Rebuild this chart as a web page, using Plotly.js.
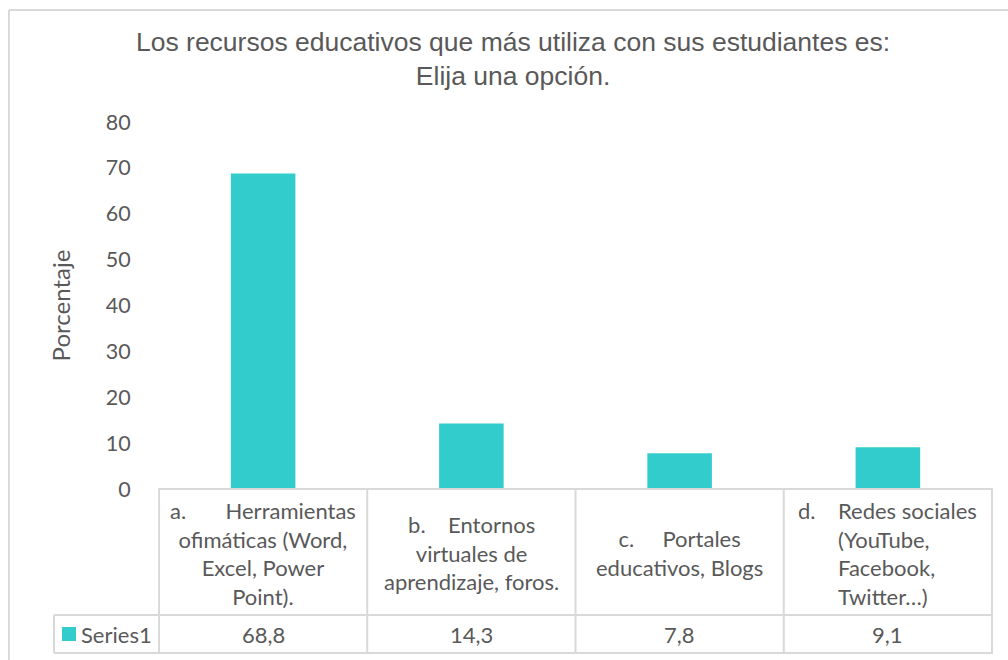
<!DOCTYPE html>
<html>
<head>
<meta charset="utf-8">
<script src="https://cdn.plot.ly/plotly-3.0.1.min.js"></script>
<style>html,body{margin:0;padding:0;background:#fff;}#chart{width:1008px;height:660px;}</style>
</head>
<body>
<div id="chart"></div>
<script>
var categories = ["a", "b", "c", "d"];
var categoryLabels = [
  "a.\u00A0\u00A0\u00A0\u00A0\u00A0\u00A0\u00A0Herramientas<br>ofimáticas (Word,<br>Excel, Power<br>Point).",
  "b.\u00A0\u00A0\u00A0\u00A0Entornos<br>virtuales de<br>aprendizaje, foros.",
  "c.\u00A0\u00A0\u00A0\u00A0\u00A0Portales<br>educativos, Blogs",
  "Redes sociales<br>(YouTube,<br>Facebook,<br>Twitter…)"
];
var labelPrefixD = "d.";
var values = [68.8, 14.3, 7.8, 9.1];
var valueLabels = ["68,8", "14,3", "7,8", "9,1"];
var seriesName = "Series1";
var titleText = "Los recursos educativos que más utiliza con sus estudiantes es:<br>Elija una opción.";
var yTitle = "Porcentaje";

var txtColor = "#595959";
var lineColor = "#d9d9d9";
var barColor = "#33CCCC";
var plotFont = "Lato, 'Open Sans', sans-serif";

var H = 367, W = 835;
function py(px) { return -(px) / H; }      // px below plot bottom -> paper y
function pxx(px) { return px / W; }        // px from plot left -> paper x

var shapes = [];
var annotations = [];
var line = {color: lineColor, width: 2};

// table: vertical lines at category boundaries
for (var i = 0; i <= categories.length; i++) {
  shapes.push({type: "line", xref: "x", yref: "paper", x0: i - 0.5, x1: i - 0.5, y0: 0, y1: py(164), line: line});
}
// horizontal lines
shapes.push({type: "line", xref: "paper", yref: "paper", x0: 0, x1: 1, y0: 0, y1: 0, line: line});
shapes.push({type: "line", xref: "paper", yref: "paper", x0: pxx(-104), x1: 1, y0: py(126), y1: py(126), line: line});
shapes.push({type: "line", xref: "paper", yref: "paper", x0: pxx(-104), x1: 1, y0: py(164), y1: py(164), line: line});
shapes.push({type: "line", xref: "paper", yref: "paper", x0: pxx(-104), x1: pxx(-104), y0: py(126), y1: py(164), line: line});
// legend key
shapes.push({type: "rect", xref: "paper", yref: "paper", x0: pxx(-96), x1: pxx(-82), y0: py(138), y1: py(152), fillcolor: barColor, line: {width: 0}});
// outer chart border (left and top)
var topY = 1 + 112 / H;
shapes.push({type: "line", xref: "paper", yref: "paper", x0: pxx(-149), x1: pxx(-149), y0: py(200), y1: topY, line: {color: lineColor, width: 2}});
shapes.push({type: "line", xref: "paper", yref: "paper", x0: pxx(-149), x1: pxx(900), y0: topY, y1: topY, line: {color: lineColor, width: 2}});

var lblFont = {family: plotFont, size: 22, color: txtColor};
for (var j = 0; j < categories.length; j++) {
  if (j === 3) {
    annotations.push({xref: "x", yref: "paper", x: j - 0.5, y: py(64), xanchor: "left", yanchor: "middle", xshift: 52, align: "left", showarrow: false, text: categoryLabels[j], font: lblFont});
    annotations.push({xref: "x", yref: "paper", x: j - 0.5, y: py(21), xanchor: "left", yanchor: "middle", xshift: 12, align: "left", showarrow: false, text: labelPrefixD, font: lblFont});
  } else {
    annotations.push({xref: "x", yref: "paper", x: j, y: py(64), xanchor: "center", yanchor: "middle", align: "center", showarrow: false, text: categoryLabels[j], font: lblFont});
  }
  annotations.push({xref: "x", yref: "paper", x: j, y: py(145), xanchor: "center", yanchor: "middle", showarrow: false, text: valueLabels[j], font: lblFont});
}
annotations.push({xref: "paper", yref: "paper", x: pxx(-79), y: py(145), xanchor: "left", yanchor: "middle", showarrow: false, text: seriesName, font: lblFont});

var data = [{
  type: "bar",
  x: categories,
  y: values,
  name: seriesName,
  marker: {color: barColor},
  hoverinfo: "y"
}];

var layout = {
  width: 1008,
  height: 660,
  margin: {l: 158, r: 15, t: 122, b: 171, pad: 0},
  paper_bgcolor: "#ffffff",
  plot_bgcolor: "#ffffff",
  showlegend: false,
  bargap: 0.69,
  title: {
    text: titleText,
    font: {family: "'Liberation Sans', Arial, sans-serif", size: 26.5, color: txtColor},
    xref: "container", x: 0.509, xanchor: "center",
    yref: "container", y: 1 - 51 / 660, yanchor: "top"
  },
  xaxis: {
    type: "category",
    showticklabels: false,
    showgrid: false,
    zeroline: false,
    showline: false,
    ticks: "",
    fixedrange: true
  },
  yaxis: {
    range: [0, 80],
    dtick: 10,
    showgrid: false,
    zeroline: false,
    showline: false,
    ticks: "outside",
    ticklen: 22,
    tickcolor: "rgba(0,0,0,0)",
    tickfont: {family: plotFont, size: 21.5, color: txtColor},
    title: {text: yTitle, font: {family: plotFont, size: 24, color: txtColor}, standoff: 28},
    fixedrange: true
  },
  shapes: shapes,
  annotations: annotations
};

Plotly.newPlot("chart", data, layout, {displayModeBar: false, staticPlot: true});
</script>
</body>
</html>
